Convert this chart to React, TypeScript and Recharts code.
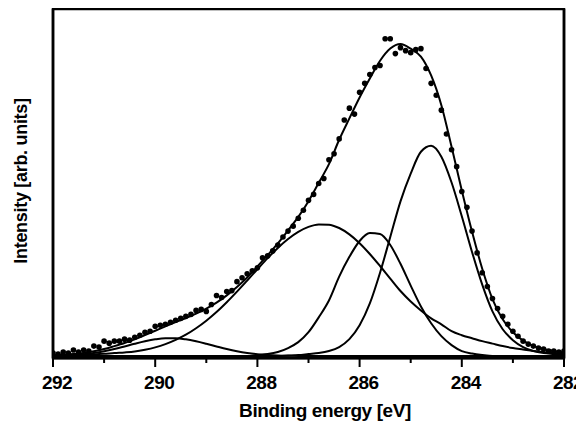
import React from 'react';
import { ComposedChart, Line, Scatter, XAxis, YAxis, ReferenceArea } from 'recharts';

// Binding energies (eV) of the fitted curves
const curveEnergy = [
  292.0, 291.8, 291.6, 291.4, 291.2, 291.0, 290.8, 290.6, 290.4, 290.2,
  290.0, 289.8, 289.6, 289.4, 289.2, 289.0, 288.8, 288.6, 288.4, 288.2,
  288.0, 287.8, 287.6, 287.4, 287.2, 287.0, 286.8, 286.6, 286.4, 286.2,
  286.0, 285.8, 285.6, 285.4, 285.2, 285.0, 284.8, 284.6, 284.4, 284.2,
  284.0, 283.8, 283.6, 283.4, 283.2, 283.0, 282.8, 282.6, 282.4, 282.2,
  282.0,
];
// Fit envelope
const envelope = [
  0.8, 1.3, 2.0, 3.1, 4.7, 7.0, 10, 13.2, 16.8, 21.1,
  25.5, 29.9, 34.2, 38.3, 42.8, 47.9, 53.9, 61.2, 69.7, 79.2,
  90.4, 101.8, 113.6, 126.8, 140.3, 156.2, 174.7, 193.5, 218.1, 239.7,
  260.8, 279.9, 297.8, 310.1, 314.6, 310, 302, 283, 253, 211,
  167, 125.5, 88, 57.5, 37, 24, 15.5, 10, 7, 5,
  3.5,
];
// Component peaks
const peakCC = [
  0, 0, 0, 0, 0, 0, 0, 0, 0, 0,
  0, 0, 0, 0, 0, 0, 0, 0, 0, 0,
  0, 0, 0, 0.5, 1, 2, 3, 5, 9, 17,
  31, 53, 84, 120, 156, 184, 206, 212, 201, 175,
  141, 105, 72, 45, 27, 16, 9, 5, 3, 2,
  1,
];
const peakCO = [
  0, 0, 0, 0, 0, 0, 0, 0, 0, 0,
  0, 0, 0, 0, 0, 0, 0, 0, 0, 0,
  1, 2, 4, 8, 14, 24, 39, 56, 80, 100,
  116, 124, 123, 112, 93, 71, 50, 33, 20, 11,
  5, 2.5, 1, 0, 0, 0, 0, 0, 0, 0,
  0,
];
const peakBroad = [
  0.5, 0.7, 0.9, 1.2, 1.6, 2.2, 3, 3.6, 4.5, 6.3,
  8.7, 12, 16.3, 21.5, 28, 35.6, 44.3, 54.2, 64.9, 76.1,
  87.5, 98.7, 109, 118, 125.2, 130.2, 132.7, 132.5, 129.1, 122.7,
  113.8, 102.9, 90.8, 78.1, 65.6, 55, 46, 38, 32, 25,
  21, 18, 15, 12.5, 10, 8, 6.5, 5, 4, 3,
  2.5,
];
const peakCarbonate = [
  0.3, 0.6, 1.1, 1.9, 3.1, 4.8, 7, 9.6, 12.3, 14.8,
  16.8, 17.9, 17.9, 16.8, 14.8, 12.3, 9.6, 7, 4.8, 3.1,
  1.9, 1.1, 0.6, 0.3, 0.1, 0, 0, 0, 0, 0,
  0, 0, 0, 0, 0, 0, 0, 0, 0, 0,
  0, 0, 0, 0, 0, 0, 0, 0, 0, 0,
  0,
];

// Measured spectrum
const measEnergy = [
  292.0, 291.9, 291.8, 291.7, 291.6, 291.5, 291.4, 291.3, 291.2, 291.1,
  291.0, 290.9, 290.8, 290.7, 290.6, 290.5, 290.4, 290.3, 290.2, 290.1,
  290.0, 289.9, 289.8, 289.7, 289.6, 289.5, 289.4, 289.3, 289.2, 289.1,
  289.0, 288.9, 288.8, 288.7, 288.6, 288.5, 288.4, 288.3, 288.2, 288.1,
  288.0, 287.9, 287.8, 287.7, 287.6, 287.5, 287.4, 287.3, 287.2, 287.1,
  287.0, 286.9, 286.8, 286.7, 286.6, 286.5, 286.4, 286.3, 286.2, 286.1,
  286.0, 285.9, 285.8, 285.7, 285.6, 285.5, 285.4, 285.3, 285.2, 285.1,
  285.0, 284.9, 284.8, 284.7, 284.6, 284.5, 284.4, 284.3, 284.2, 284.1,
  284.0, 283.9, 283.8, 283.7, 283.6, 283.5, 283.4, 283.3, 283.2, 283.1,
  283.0, 282.9, 282.8, 282.7, 282.6, 282.5, 282.4, 282.3, 282.2, 282.1,
  282.0,
];
const measIntensity = [
  3, 2, 4, 3, 6, 4, 6, 5, 10, 9,
  15, 13, 15, 15, 17, 16, 19, 21, 24, 25,
  30, 31, 32, 34, 36, 38, 40, 42, 46, 47,
  45, 52, 61, 59, 65, 66, 75, 79, 83, 86,
  89, 99, 101, 106, 112, 120, 126, 131, 139, 147,
  157, 163, 174, 179, 198, 204, 219, 238, 250, 244,
  266, 275, 284, 291, 293, 320, 320, 305, 311, 308,
  306, 309, 310, 290, 275, 263, 248, 224, 208, 191,
  166, 150, 126, 104, 84, 70, 58, 48, 40, 32,
  25, 20, 15, 12, 10, 8, 7, 5, 5, 4,
  5,
];

const xTicks = [282, 283, 284, 285, 286, 287, 288, 289, 290, 291, 292];
const xTitle = 'Binding energy [eV]';
const yTitle = 'Intensity [arb. units]';

const curveData = curveEnergy.map((e, i) => ({
  e,
  env: envelope[i],
  cc: peakCC[i],
  co: peakCO[i],
  broad: peakBroad[i],
  carb: peakCarbonate[i],
}));
const measData = measEnergy.map((e, i) => ({ e, v: measIntensity[i] }));

const FONT = "'Liberation Sans', Arial, sans-serif";
const AXIS_Y = 350;

const XTick = (props: any) => {
  const { x, payload } = props;
  const v = payload.value;
  const major = v % 2 === 0;
  return (
    <g>
      <line x1={x} x2={x} y1={AXIS_Y} y2={AXIS_Y + (major ? 9 : 5)} stroke="#000" strokeWidth={2} />
      {major && (
        <text x={x + 4} y={381} textAnchor="middle" fontFamily={FONT} fontWeight="bold" fontSize={19} fill="#000" letterSpacing={-0.5}>
          {v}
        </text>
      )}
    </g>
  );
};

const dot = (p: any) => <circle cx={p.cx} cy={p.cy} r={2.8} fill="#000" />;

export default function App() {
  return (
    <div style={{ position: 'relative', width: 576, height: 418 }}>
      <ComposedChart
        width={576}
        height={418}
        data={curveData}
        margin={{ top: 0, right: 19, bottom: 0, left: 44 }}
      >
        <XAxis
          dataKey="e"
          type="number"
          domain={[282, 292]}
          reversed
          allowDataOverflow
          ticks={xTicks}
          interval={0}
          tick={<XTick />}
          tickLine={false}
          height={68}
          axisLine={{ stroke: '#000', strokeWidth: 3 }}
        />
        <XAxis
          xAxisId="top"
          orientation="top"
          dataKey="e"
          type="number"
          domain={[282, 292]}
          reversed
          height={1}
          tick={false}
          tickLine={false}
          axisLine={{ stroke: '#000', strokeWidth: 2 }}
        />
        <YAxis
          type="number"
          domain={[-2, 350]}
          allowDataOverflow
          width={1}
          tick={false}
          tickLine={false}
          axisLine={{ stroke: '#000', strokeWidth: 2.5 }}
        />
        <YAxis
          yAxisId="right"
          orientation="right"
          type="number"
          domain={[0, 1]}
          width={1}
          tick={false}
          tickLine={false}
          axisLine={{ stroke: '#000', strokeWidth: 2.5 }}
        />
        <ReferenceArea
          x1={292}
          x2={282}
          y1={-2}
          y2={350}
          fill="none"
          fillOpacity={0}
          stroke="#000"
          strokeWidth={2.5}
          ifOverflow="visible"
        />
        <Line dataKey="carb" type="monotone" stroke="#000" strokeWidth={2} dot={false} activeDot={false} isAnimationActive={false} />
        <Line dataKey="broad" type="monotone" stroke="#000" strokeWidth={2} dot={false} activeDot={false} isAnimationActive={false} />
        <Line dataKey="co" type="monotone" stroke="#000" strokeWidth={2} dot={false} activeDot={false} isAnimationActive={false} />
        <Line dataKey="cc" type="monotone" stroke="#000" strokeWidth={2} dot={false} activeDot={false} isAnimationActive={false} />
        <Line dataKey="env" type="monotone" stroke="#000" strokeWidth={2} dot={false} activeDot={false} isAnimationActive={false} />
        <Scatter data={measData} dataKey="v" shape={dot} isAnimationActive={false} />
      </ComposedChart>
      <svg
        width={576}
        height={418}
        style={{ position: 'absolute', left: 0, top: 0, pointerEvents: 'none' }}
      >
        <text x={317} y={409} textAnchor="middle" fontFamily={FONT} fontWeight="bold" fontSize={19} fill="#000" letterSpacing={-0.4}>
          {xTitle}
        </text>
        <text
          x={13}
          y={173}
          transform="rotate(-90 13 173)"
          textAnchor="middle"
          dominantBaseline="central"
          fontFamily={FONT}
          fontWeight="bold"
          fontSize={18}
          fill="#000"
          letterSpacing={-0.3}
        >
          {yTitle}
        </text>
      </svg>
    </div>
  );
}
